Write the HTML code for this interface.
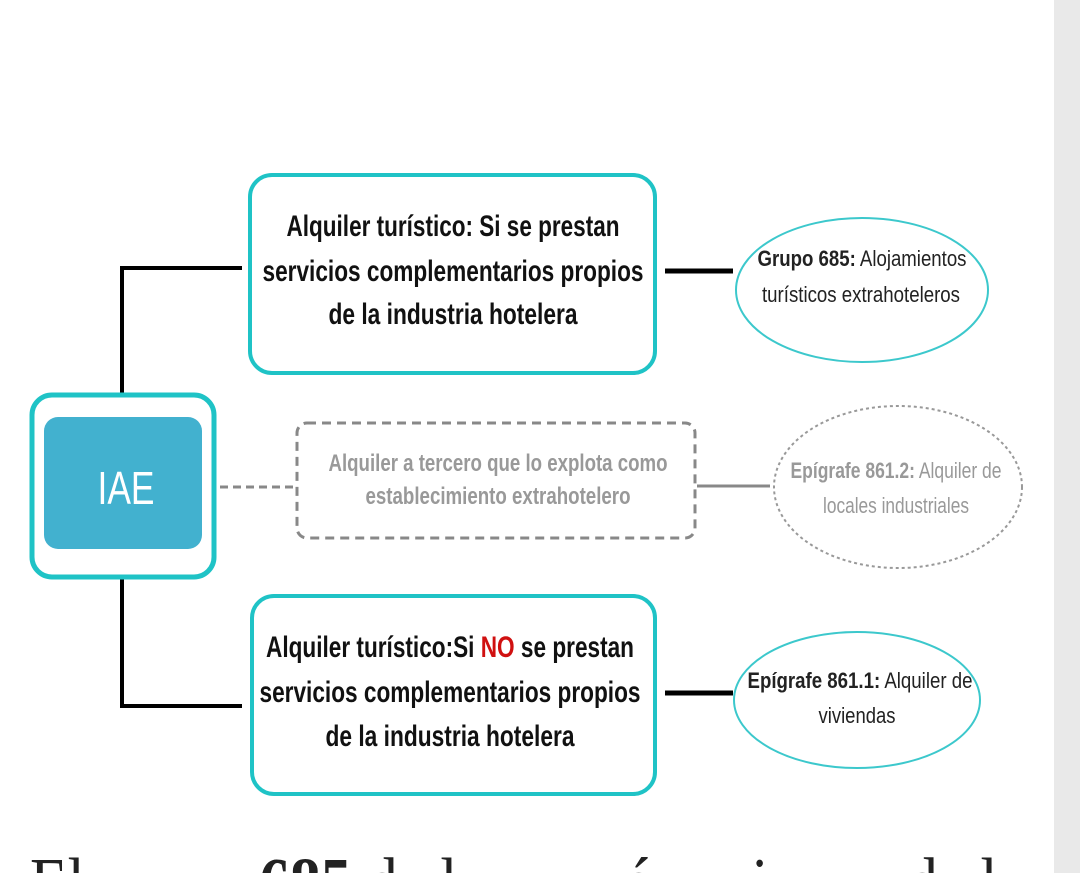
<!DOCTYPE html>
<html><head><meta charset="utf-8"><style>
html,body{margin:0;padding:0;background:#fff;width:1080px;height:873px;overflow:hidden}
svg{display:block}
text{font-family:"Liberation Sans Narrow","Liberation Sans",sans-serif}
</style></head><body>
<svg width="1080" height="873" viewBox="0 0 1080 873" xmlns="http://www.w3.org/2000/svg" overflow="hidden">
<rect x="1054" y="0" width="26" height="873" fill="#e9e9e9"/>
<polyline points="242,268 122,268 122,393" fill="none" stroke="#000" stroke-width="4"/>
<polyline points="122,579 122,706 242,706" fill="none" stroke="#000" stroke-width="4"/>
<line x1="665" y1="271" x2="733" y2="271" stroke="#000" stroke-width="5"/>
<line x1="665" y1="693" x2="733" y2="693" stroke="#000" stroke-width="5"/>
<line x1="220" y1="487" x2="297" y2="487" stroke="#888" stroke-width="3" stroke-dasharray="8,5"/>
<line x1="697" y1="486" x2="770" y2="486" stroke="#888" stroke-width="3"/>
<rect x="32" y="395" width="182" height="182" rx="20" fill="#fff" stroke="#1fc3c6" stroke-width="5"/>
<rect x="44" y="417" width="158" height="132" rx="14" fill="#42b1cf"/>
<text x="126" y="504" font-size="46" fill="#fff" text-anchor="middle" textLength="57" lengthAdjust="spacingAndGlyphs">IAE</text>
<rect x="250" y="175" width="405" height="198" rx="22" fill="#fff" stroke="#1fc3c6" stroke-width="4"/>
<g font-size="30" font-weight="bold" fill="#111" text-anchor="middle">
<text x="453" y="236" textLength="333" lengthAdjust="spacingAndGlyphs">Alquiler turístico: Si se prestan</text>
<text x="453" y="281" textLength="381" lengthAdjust="spacingAndGlyphs">servicios complementarios propios</text>
<text x="453" y="324" textLength="249" lengthAdjust="spacingAndGlyphs">de la industria hotelera</text>
</g>
<rect x="297" y="423" width="398" height="115" rx="10" fill="#fff" stroke="#888" stroke-width="3" stroke-dasharray="9,6"/>
<g font-size="24" font-weight="bold" fill="#999" text-anchor="middle">
<text x="498" y="471" textLength="339" lengthAdjust="spacingAndGlyphs">Alquiler a tercero que lo explota como</text>
<text x="498" y="504" textLength="265" lengthAdjust="spacingAndGlyphs">establecimiento extrahotelero</text>
</g>
<rect x="252" y="596" width="403" height="198" rx="22" fill="#fff" stroke="#1fc3c6" stroke-width="4"/>
<g font-size="30" font-weight="bold" fill="#111" text-anchor="middle">
<text x="450" y="657" textLength="368" lengthAdjust="spacingAndGlyphs">Alquiler turístico:Si <tspan fill="#d01010">NO</tspan> se prestan</text>
<text x="450" y="702" textLength="381" lengthAdjust="spacingAndGlyphs">servicios complementarios propios</text>
<text x="450" y="746" textLength="249" lengthAdjust="spacingAndGlyphs">de la industria hotelera</text>
</g>
<ellipse cx="862" cy="290" rx="126" ry="72" fill="#fff" stroke="#3cc8cc" stroke-width="2"/>
<g font-size="22" fill="#222" text-anchor="middle">
<text x="862" y="266" textLength="209" lengthAdjust="spacingAndGlyphs"><tspan font-weight="bold">Grupo 685:</tspan> Alojamientos</text>
<text x="861" y="302" textLength="198" lengthAdjust="spacingAndGlyphs">turísticos extrahoteleros</text>
</g>
<ellipse cx="898" cy="487" rx="124" ry="81" fill="#fff" stroke="#999" stroke-width="2" stroke-dasharray="3,3"/>
<g font-size="22" fill="#999" text-anchor="middle">
<text x="896" y="478" textLength="211" lengthAdjust="spacingAndGlyphs"><tspan font-weight="bold">Epígrafe 861.2:</tspan> Alquiler de</text>
<text x="896" y="513" textLength="146" lengthAdjust="spacingAndGlyphs">locales industriales</text>
</g>
<ellipse cx="857" cy="700" rx="123" ry="68" fill="#fff" stroke="#3cc8cc" stroke-width="2"/>
<g font-size="22" fill="#222" text-anchor="middle">
<text x="860" y="688" textLength="225" lengthAdjust="spacingAndGlyphs"><tspan font-weight="bold">Epígrafe 861.1:</tspan> Alquiler de</text>
<text x="857" y="723" textLength="77" lengthAdjust="spacingAndGlyphs">viviendas</text>
</g>
<text x="30" y="906" font-size="70" fill="#222" textLength="995" lengthAdjust="spacingAndGlyphs" style="font-family:'Liberation Serif',serif">El<tspan fill="#fff"> grupo </tspan><tspan font-weight="bold">685</tspan><tspan fill="#fff"> </tspan>d<tspan fill="#fff">e </tspan>l<tspan fill="#fff">a secci</tspan>ó<tspan fill="#fff">n pr</tspan>i<tspan fill="#fff">mera </tspan>d<tspan fill="#fff">e </tspan>l<tspan fill="#fff">a</tspan></text>
</svg>
</body></html>
